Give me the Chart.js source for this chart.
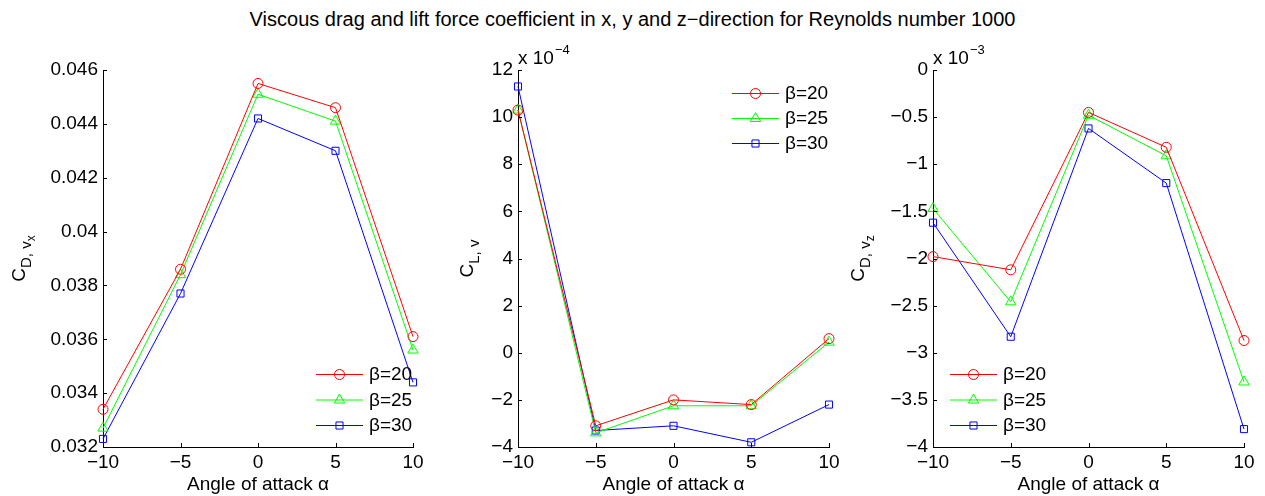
<!DOCTYPE html>
<html>
<head>
<meta charset="utf-8">
<script src="https://cdn.jsdelivr.net/npm/chart.js@4.4.1/dist/chart.umd.min.js"></script>
<style>
    body { margin: 0; background: #fff; width: 1265px; height: 496px; overflow: hidden; position: relative;
           font-family: "Liberation Sans", Arial, sans-serif; }
    #title { position: absolute; left: 0; top: 8px; width: 1265px; text-align: center; font-size: 20px; line-height: 22px; color: #000; }
    canvas { position: absolute; top: 0; }
</style>
</head>
<body>
<div id="title">Viscous drag and lift force coefficient in x, y and z−direction for Reynolds number 1000</div>
<canvas id="chart-x" width="430" height="496" style="left:0"></canvas>
<canvas id="chart-y" width="415" height="496" style="left:430px"></canvas>
<canvas id="chart-z" width="420" height="496" style="left:845px"></canvas>
<script>
(function () {
    "use strict";

    // Angle of attack (deg) and sweep angles
    var alpha = [-10, -5, 0, 5, 10];
    var betaLabels = ["β=20", "β=25", "β=30"];

    // Drag coefficient, x-direction
    var cdx20 = [0.0334, 0.0386, 0.0455, 0.0446, 0.0361];
    var cdx25 = [0.0327, 0.0384, 0.0451, 0.0441, 0.0356];
    var cdx30 = [0.0323, 0.0377, 0.0442, 0.0430, 0.0344];

    // Lift coefficient, y-direction (x 10^-4)
    var cly20 = [10.3, -3.1, -2.0, -2.2, 0.6];
    var cly25 = [10.3, -3.4, -2.25, -2.25, 0.45];
    var cly30 = [11.3, -3.3, -3.1, -3.8, -2.2];

    // Drag coefficient, z-direction (x 10^-3)
    var cdz20 = [-1.98, -2.12, -0.45, -0.82, -2.87];
    var cdz25 = [-1.47, -2.46, -0.48, -0.91, -3.31];
    var cdz30 = [-1.62, -2.83, -0.62, -1.20, -3.81];

    var colors = ["#ff0000", "#00ff00", "#0000ff"];
    var markers = ["circle", "triangle", "rect"];
    var markerSize = [5, 6, 5];
    var FONT = '"Liberation Sans", Arial, sans-serif';
    var FS = 19;

    Chart.defaults.font.family = FONT;
    Chart.defaults.font.size = FS;
    Chart.defaults.color = "#000";

    function pts(ys) {
        return alpha.map(function (a, i) { return { x: a, y: ys[i] }; });
    }

    function minus(v) {
        return String(v).replace("-", "\u2212");
    }

    function drawMarker(ctx, style, r, x, y) {
        ctx.beginPath();
        if (style === "circle") {
            ctx.arc(x, y, r, 0, Math.PI * 2);
        } else if (style === "triangle") {
            ctx.moveTo(x, y - r);
            ctx.lineTo(x + r * Math.sin(Math.PI / 3), y + r / 2);
            ctx.lineTo(x - r * Math.sin(Math.PI / 3), y + r / 2);
            ctx.closePath();
        } else {
            var s = r * Math.SQRT1_2;
            ctx.rect(x - s, y - s, 2 * s, 2 * s);
        }
        ctx.stroke();
    }

    // Inward ticks, sub-scripted y label, exponent and legend
    var matlabAxes = {
        id: "matlabAxes",
        afterDraw: function (chart) {
            var o = chart.options.plugins.matlabAxes;
            var ctx = chart.ctx;
            var area = chart.chartArea;
            var sx = chart.scales.x, sy = chart.scales.y;
            ctx.save();
            ctx.strokeStyle = "#000";
            ctx.lineWidth = 1;
            ctx.beginPath();
            sx.ticks.forEach(function (t) {
                var px = Math.round(sx.getPixelForValue(t.value)) + 0.5;
                ctx.moveTo(px, area.bottom);
                ctx.lineTo(px, area.bottom - 4);
            });
            sy.ticks.forEach(function (t) {
                var py = Math.round(sy.getPixelForValue(t.value)) + 0.5;
                ctx.moveTo(area.left, py);
                ctx.lineTo(area.left + 4, py);
            });
            ctx.stroke();

            // y label: [text, level] pieces, level 1/2 are sub-scripts
            var sizes = [FS, 15, 12], drops = [0, 6, 10];
            ctx.textBaseline = "alphabetic";
            var total = 0;
            o.ylabel.forEach(function (p) {
                ctx.font = sizes[p[1]] + "px " + FONT;
                total += ctx.measureText(p[0]).width;
            });
            ctx.translate(o.ylabelX, (area.top + area.bottom) / 2);
            ctx.rotate(-Math.PI / 2);
            var cx = -total / 2;
            o.ylabel.forEach(function (p) {
                ctx.font = sizes[p[1]] + "px " + FONT;
                ctx.fillStyle = "#000";
                ctx.fillText(p[0], cx, drops[p[1]]);
                cx += ctx.measureText(p[0]).width;
            });
            ctx.setTransform(1, 0, 0, 1, 0, 0);

            if (o.exponent) {
                ctx.font = FS + "px " + FONT;
                ctx.fillStyle = "#000";
                ctx.textAlign = "left";
                ctx.fillText("x 10", area.left, area.top - 6);
                var w = ctx.measureText("x 10").width;
                ctx.font = "13px " + FONT;
                ctx.fillText(o.exponent, area.left + w + 1, area.top - 16);
            }

            // legend
            var lg = o.legend;
            chart.data.datasets.forEach(function (ds, i) {
                var y = lg.y + i * lg.dy;
                ctx.strokeStyle = ds.borderColor;
                ctx.lineWidth = 1;
                ctx.beginPath();
                ctx.moveTo(lg.x, y + 0.5);
                ctx.lineTo(lg.x + 47, y + 0.5);
                ctx.stroke();
                drawMarker(ctx, ds.pointStyle, ds.pointRadius, lg.x + 23.5, y + 0.5);
                ctx.fillStyle = "#000";
                ctx.font = FS + "px " + FONT;
                ctx.textBaseline = "middle";
                ctx.textAlign = "left";
                ctx.fillText(ds.label, lg.x + 53, y + 1);
            });
            ctx.restore();
        }
    };

    function makeChart(id, series, y, pad, yWidth, extra) {
        return new Chart(document.getElementById(id), {
            type: "line",
            data: {
                datasets: series.map(function (s, i) {
                    return {
                        label: betaLabels[i],
                        data: pts(s),
                        borderColor: colors[i],
                        backgroundColor: "transparent",
                        borderWidth: 1,
                        pointStyle: markers[i],
                        pointRadius: markerSize[i],
                        pointBorderWidth: 1,
                        pointBackgroundColor: "transparent",
                        tension: 0,
                        clip: false
                    };
                })
            },
            options: {
                responsive: false,
                animation: false,
                events: [],
                layout: { padding: { top: 70, right: pad, left: 0, bottom: 0 } },
                scales: {
                    x: {
                        type: "linear",
                        min: -10, max: 10,
                        grid: { display: false, drawTicks: false },
                        border: { display: true, color: "#000", width: 1 },
                        ticks: { stepSize: 5, padding: 4, maxRotation: 0, callback: function (v) { return minus(v); } },
                        title: { display: true, text: "Angle of attack α", font: { size: FS }, padding: { top: 0, bottom: 0 } },
                        afterFit: function (s) { s.height = 49; }
                    },
                    y: {
                        min: y.min, max: y.max,
                        grid: { display: false, drawTicks: false },
                        border: { display: true, color: "#000", width: 1 },
                        ticks: { stepSize: y.step, padding: 5, callback: y.fmt },
                        afterFit: function (s) { s.width = yWidth; }
                    }
                },
                plugins: {
                    legend: { display: false },
                    tooltip: { enabled: false },
                    matlabAxes: extra
                }
            },
            plugins: [matlabAxes]
        });
    }

    makeChart("chart-x", [cdx20, cdx25, cdx30],
        { min: 0.032, max: 0.046, step: 0.002, fmt: function (v) { return String(parseFloat(v.toFixed(3))); } },
        17, 103,
        { ylabel: [["C", 0], ["D, v", 1], ["x", 2]], ylabelX: 25, legend: { x: 316, y: 374, dy: 25.5 } });

    makeChart("chart-y", [cly20, cly25, cly30],
        { min: -4, max: 12, step: 2, fmt: function (v) { return minus(Math.round(v)); } },
        16, 88,
        { ylabel: [["C", 0], ["L, v", 1]], ylabelX: 43, exponent: "\u22124", legend: { x: 302, y: 93, dy: 25 } });

    makeChart("chart-z", [cdz20, cdz25, cdz30],
        { min: -4, max: 0, step: 0.5, fmt: function (v) { return minus(Math.round(v * 10) / 10); } },
        21, 88,
        { ylabel: [["C", 0], ["D, v", 1], ["z", 2]], ylabelX: 19, exponent: "\u22123", legend: { x: 105, y: 374, dy: 25.5 } });
})();
</script>
</body>
</html>
